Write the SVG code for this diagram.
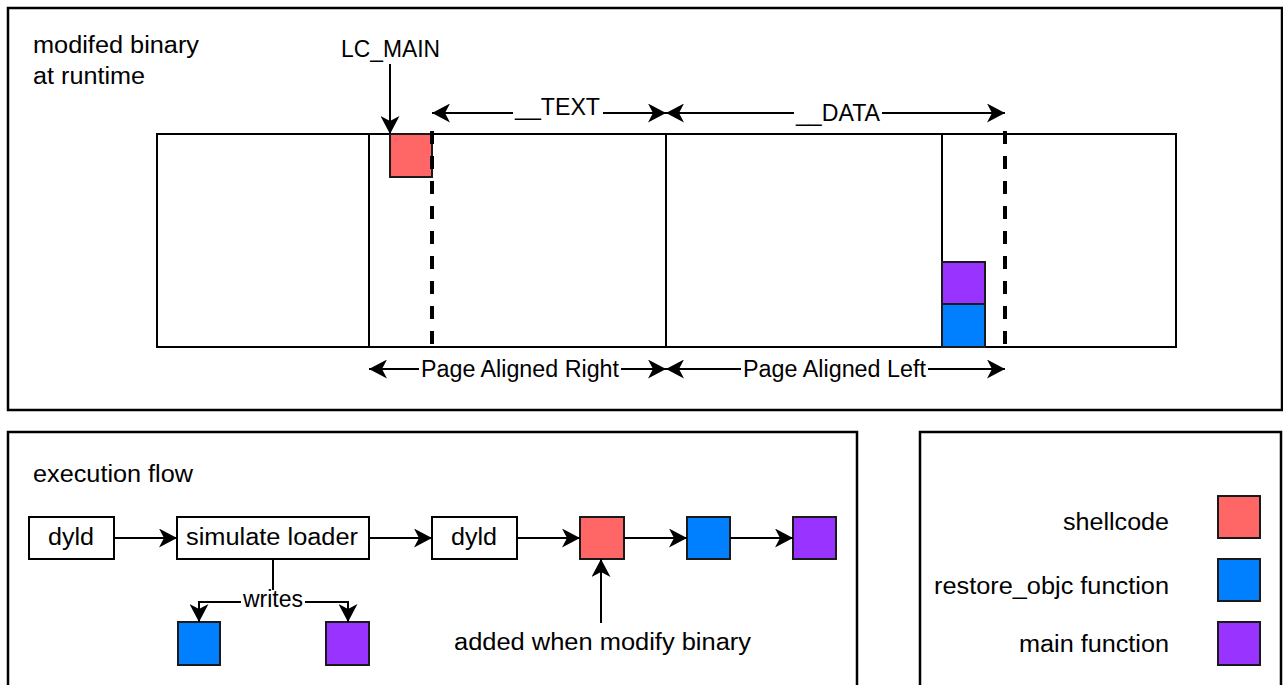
<svg xmlns="http://www.w3.org/2000/svg" width="1283" height="685" viewBox="0 0 1283 685">
<style>
.frame{fill:#fff;stroke:#000;stroke-width:2.5}
.box{fill:#fff;stroke:#000;stroke-width:2}
.red{fill:#ff6666;stroke:#1a1a1a;stroke-width:2}
.blue{fill:#007fff;stroke:#1a1a1a;stroke-width:2}
.purple{fill:#9933ff;stroke:#1a1a1a;stroke-width:2}
.ln{fill:none;stroke:#000;stroke-width:2}
.dash{fill:none;stroke:#000;stroke-width:4;stroke-dasharray:13 12}
text{font-family:"Liberation Sans",Arial,sans-serif;font-size:23px;fill:#000}
.lbl{fill:#fff;stroke:none}
</style>
<defs>
<marker id="ah" markerUnits="userSpaceOnUse" viewBox="0 0 18 19" markerWidth="18" markerHeight="19" refX="18" refY="9.5" orient="auto-start-reverse">
<path d="M0,0 L18,9.5 L0,19 L5,9.5 z" fill="#000"/>
</marker>
</defs>
<rect width="1283" height="685" fill="#fff"/>
<g id="frame-top">
<rect class="frame" x="8" y="8" width="1274" height="402"/>
<text x="33" y="53" textLength="166" lengthAdjust="spacingAndGlyphs">modifed binary</text>
<text x="33" y="84" textLength="112" lengthAdjust="spacingAndGlyphs">at runtime</text>
</g>
<g id="frame-flow">
<rect class="frame" x="8" y="432" width="849" height="260"/>
<text x="33" y="482" textLength="160" lengthAdjust="spacingAndGlyphs">execution flow</text>
</g>
<g id="legend">
<rect class="frame" x="920" y="432" width="361" height="260"/>
<text x="1063" y="530" textLength="106" lengthAdjust="spacingAndGlyphs">shellcode</text>
<rect class="red" x="1218" y="496" width="42" height="42"/>
<text x="934" y="594" textLength="235" lengthAdjust="spacingAndGlyphs">restore_objc function</text>
<rect class="blue" x="1218" y="559" width="42" height="42"/>
<text x="1019" y="652" textLength="150" lengthAdjust="spacingAndGlyphs">main function</text>
<rect class="purple" x="1218" y="622" width="42" height="43"/>
</g>
<g id="binary">
<rect class="box" x="157" y="134" width="1019" height="213"/>
<line class="ln" x1="369" y1="134" x2="369" y2="347"/>
<line class="ln" x1="666" y1="134" x2="666" y2="347"/>
<line class="ln" x1="942" y1="134" x2="942" y2="347"/>
</g>
<g id="shellcode-block"><rect class="red" x="390" y="134" width="42" height="43"/></g>
<g id="dash-lines">
<line class="dash" x1="432" y1="131" x2="432" y2="347"/>
<line class="dash" x1="1005" y1="131" x2="1005" y2="347"/>
</g>
<g id="main-block"><rect class="purple" x="942" y="262" width="43" height="42"/></g>
<g id="restore-block"><rect class="blue" x="942" y="304" width="43" height="43"/></g>
<g id="lc-main"><text x="341" y="57" textLength="99" lengthAdjust="spacingAndGlyphs">LC_MAIN</text></g>
<g id="dyld1"><rect class="box" x="29" y="517" width="85" height="42"/><text x="48" y="545" textLength="46" lengthAdjust="spacingAndGlyphs">dyld</text></g>
<g id="loader"><rect class="box" x="177" y="517" width="192" height="42"/><text x="186" y="545" textLength="172" lengthAdjust="spacingAndGlyphs">simulate loader</text></g>
<g id="dyld2"><rect class="box" x="432" y="517" width="85" height="42"/><text x="451" y="545" textLength="46" lengthAdjust="spacingAndGlyphs">dyld</text></g>
<g id="flow-red"><rect class="red" x="580" y="517" width="44" height="42"/></g>
<g id="flow-blue"><rect class="blue" x="687" y="517" width="43" height="42"/></g>
<g id="flow-purple"><rect class="purple" x="793" y="517" width="43" height="42"/></g>
<g id="write-blue"><rect class="blue" x="178" y="622" width="42" height="43"/></g>
<g id="write-purple"><rect class="purple" x="326" y="622" width="43" height="43"/></g>
<g id="connectors">
<line class="ln" x1="390" y1="64" x2="390" y2="134" marker-end="url(#ah)"/>
<line class="ln" x1="432" y1="113" x2="666" y2="113" marker-start="url(#ah)" marker-end="url(#ah)"/>
<line class="ln" x1="666" y1="113" x2="1005" y2="113" marker-start="url(#ah)" marker-end="url(#ah)"/>
<line class="ln" x1="369" y1="369" x2="666" y2="369" marker-start="url(#ah)" marker-end="url(#ah)"/>
<line class="ln" x1="666" y1="369" x2="1005" y2="369" marker-start="url(#ah)" marker-end="url(#ah)"/>
<line class="ln" x1="114" y1="538" x2="177" y2="538" marker-end="url(#ah)"/>
<line class="ln" x1="369" y1="538" x2="432" y2="538" marker-end="url(#ah)"/>
<line class="ln" x1="517" y1="538" x2="580" y2="538" marker-end="url(#ah)"/>
<line class="ln" x1="624" y1="538" x2="687" y2="538" marker-end="url(#ah)"/>
<line class="ln" x1="730" y1="538" x2="793" y2="538" marker-end="url(#ah)"/>
<path class="ln" d="M273,559 V602 H199 V622" marker-end="url(#ah)"/>
<path class="ln" d="M273,602 H348 V622" marker-end="url(#ah)"/>
<line class="ln" x1="601" y1="623" x2="601" y2="559" marker-end="url(#ah)"/>
</g>
<g id="dim-labels">
<rect class="lbl" x="513" y="95" width="90" height="28"/>
<text x="515" y="115" textLength="85" lengthAdjust="spacingAndGlyphs">__TEXT</text>
<rect class="lbl" x="794" y="100" width="88" height="26"/>
<text x="796" y="121" textLength="84" lengthAdjust="spacingAndGlyphs">__DATA</text>
<rect class="lbl" x="419" y="356" width="202" height="26"/>
<text x="421" y="377" textLength="198" lengthAdjust="spacingAndGlyphs">Page Aligned Right</text>
<rect class="lbl" x="741" y="356" width="187" height="26"/>
<text x="743" y="377" textLength="183" lengthAdjust="spacingAndGlyphs">Page Aligned Left</text>
</g>
<g id="writes-label"><rect class="lbl" x="241" y="590" width="64" height="22"/><text x="243" y="607" textLength="60" lengthAdjust="spacingAndGlyphs">writes</text></g>
<g id="added-label"><text x="454" y="650" textLength="297" lengthAdjust="spacingAndGlyphs">added when modify binary</text></g>
</svg>
